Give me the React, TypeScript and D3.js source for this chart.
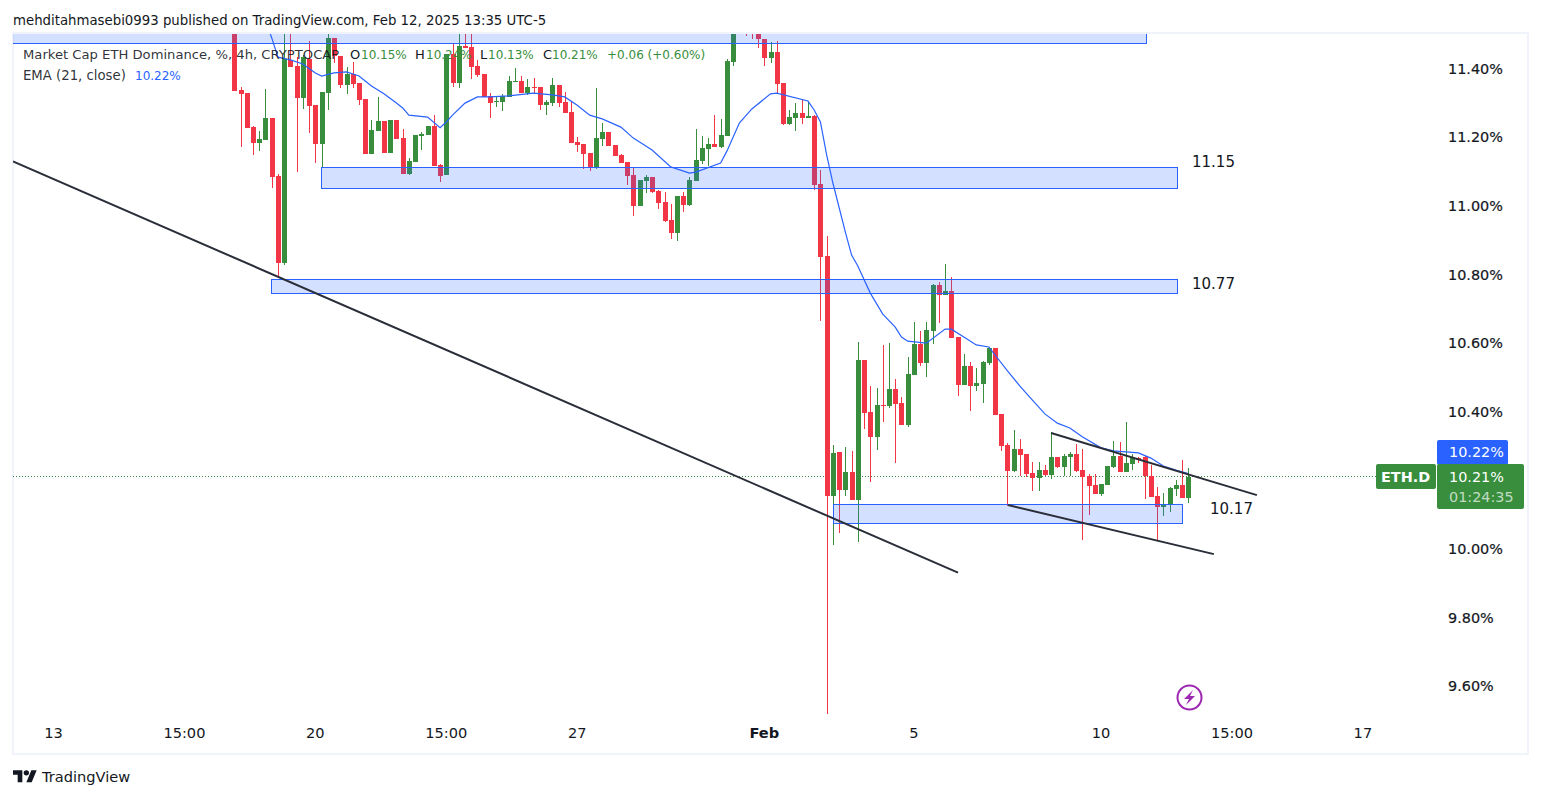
import * as d3 from "d3";

const opens = [
  11.528,11.338,11.329,11.230,11.184,11.192,11.257,11.087,10.834,11.426,
  11.408,11.315,11.429,11.294,11.181,11.329,11.490,11.437,11.353,11.385,
  11.359,11.312,11.152,11.219,11.248,11.155,11.251,11.198,11.093,11.128,
  11.204,11.207,11.233,11.120,11.090,11.443,11.359,11.466,11.464,11.408,
  11.385,11.321,11.303,11.303,11.318,11.362,11.364,11.329,11.347,11.347,
  11.294,11.300,11.353,11.303,11.274,11.187,11.181,11.155,11.111,11.195,
  11.216,11.178,11.149,11.128,11.090,11.000,11.073,11.085,11.044,11.012,
  10.959,10.921,11.029,11.003,11.073,11.131,11.166,11.181,11.172,11.204,
  11.420,11.55,11.58,11.54,11.510,11.487,11.432,11.449,11.359,11.239,
  11.257,11.271,11.257,11.262,11.064,10.854,10.155,10.283,10.172,10.224,
  10.143,10.551,10.399,10.327,10.420,10.417,10.466,10.426,10.362,10.507,
  10.598,10.542,10.636,10.770,10.740,10.752,10.618,10.478,10.533,10.475,
  10.481,10.542,10.586,10.394,10.303,10.227,10.292,10.277,10.222,10.207,
  10.230,10.216,10.268,10.239,10.268,10.277,10.230,10.213,10.187,10.160,
  10.187,10.239,10.271,10.224,10.248,10.265,10.268,10.213,10.155,10.122,
  10.128,10.175,10.187,10.149,
];
const highs = [
  11.542,11.347,11.329,11.233,11.219,11.341,11.257,11.093,11.542,11.542,
  11.434,11.440,11.481,11.294,11.332,11.510,11.490,11.437,11.405,11.420,
  11.359,11.312,11.251,11.318,11.248,11.251,11.251,11.225,11.140,11.207,
  11.216,11.233,11.265,11.122,11.443,11.475,11.501,11.501,11.501,11.426,
  11.385,11.329,11.321,11.327,11.379,11.402,11.379,11.370,11.373,11.347,
  11.309,11.373,11.353,11.332,11.303,11.201,11.181,11.155,11.344,11.242,
  11.216,11.178,11.152,11.128,11.114,11.076,11.090,11.085,11.047,11.041,
  11.006,11.029,11.041,11.085,11.225,11.204,11.198,11.265,11.254,11.429,
  11.560,11.60,11.62,11.57,11.530,11.487,11.478,11.481,11.359,11.280,
  11.300,11.309,11.306,11.265,11.105,10.912,10.303,10.283,10.297,10.286,
  10.603,10.551,10.475,10.469,10.595,10.600,10.496,10.443,10.560,10.662,
  10.636,10.662,10.773,10.778,10.831,10.793,10.618,10.568,10.545,10.528,
  10.548,10.589,10.586,10.394,10.309,10.347,10.321,10.277,10.254,10.254,
  10.245,10.341,10.268,10.277,10.283,10.306,10.292,10.219,10.219,10.190,
  10.242,10.315,10.312,10.370,10.277,10.268,10.271,10.245,10.181,10.163,
  10.181,10.201,10.259,10.236,
];
const lows = [
  11.335,11.172,11.228,11.149,11.160,11.192,11.052,10.793,10.828,11.405,
  11.099,11.283,11.213,11.125,11.114,11.280,11.417,11.344,11.327,11.344,
  11.294,11.152,11.152,11.219,11.155,11.155,11.195,11.093,11.090,11.128,
  11.163,11.207,11.117,11.070,11.090,11.347,11.344,11.461,11.370,11.376,
  11.318,11.257,11.289,11.277,11.318,11.362,11.329,11.324,11.329,11.280,
  11.265,11.292,11.289,11.271,11.184,11.157,11.108,11.102,11.108,11.175,
  11.175,11.146,11.125,11.061,10.971,11.000,11.038,11.038,10.991,10.953,
  10.904,10.898,10.982,11.000,11.073,11.122,11.117,11.172,11.169,11.204,
  11.408,11.52,11.495,11.487,11.461,11.408,11.417,11.329,11.236,11.236,
  11.219,11.239,11.257,11.047,10.665,9.519,10.012,10.047,10.155,10.143,
  10.020,10.350,10.195,10.289,10.370,10.411,10.251,10.362,10.356,10.507,
  10.533,10.501,10.598,10.659,10.740,10.615,10.446,10.478,10.402,10.461,
  10.426,10.536,10.391,10.286,10.125,10.224,10.213,10.210,10.169,10.169,
  10.213,10.204,10.236,10.213,10.213,10.224,10.026,10.099,10.160,10.155,
  10.187,10.236,10.224,10.224,10.230,10.251,10.146,10.152,10.023,10.096,
  10.108,10.155,10.149,10.134,
];
const closes = [
  11.335,11.327,11.228,11.184,11.195,11.257,11.085,10.834,11.429,11.405,
  11.315,11.434,11.292,11.181,11.332,11.490,11.437,11.353,11.385,11.356,
  11.309,11.152,11.222,11.248,11.155,11.251,11.195,11.093,11.131,11.207,
  11.210,11.233,11.117,11.087,11.443,11.359,11.466,11.462,11.405,11.382,
  11.318,11.300,11.306,11.321,11.364,11.364,11.329,11.347,11.344,11.294,
  11.303,11.353,11.300,11.271,11.184,11.178,11.152,11.111,11.198,11.216,
  11.175,11.146,11.125,11.087,11.000,11.076,11.085,11.041,11.009,10.956,
  10.921,11.029,11.003,11.076,11.134,11.169,11.181,11.172,11.207,11.423,
  11.542,11.58,11.54,11.51,11.487,11.432,11.449,11.356,11.239,11.259,
  11.271,11.257,11.262,11.061,10.851,10.155,10.280,10.172,10.224,10.143,
  10.551,10.396,10.327,10.420,10.417,10.466,10.423,10.362,10.510,10.598,
  10.542,10.638,10.770,10.740,10.752,10.615,10.478,10.533,10.475,10.484,
  10.545,10.586,10.391,10.300,10.227,10.292,10.274,10.219,10.207,10.230,
  10.216,10.268,10.239,10.271,10.277,10.227,10.210,10.184,10.160,10.190,
  10.242,10.271,10.224,10.251,10.265,10.259,10.213,10.152,10.122,10.131,
  10.178,10.187,10.149,10.21,
];

// EMA read at these bars only
const emaBars = [
  5,6,7,9,11,13,14,16,18,20,22,24,26,27,28,31,33,34,35,37,39,41,44,48,51,53,55,57,59,62,64,67,70,73,74,78,79,81,83,86,87,92,93,
  94,95,96,98,99,100,102,104,106,107,108,111,114,115,117,119,121,124,126,128,130,132,134,136,139,141,145,147,149,151,153,
];
const emaValues = [
  11.542,11.490,11.434,11.426,11.414,11.388,11.379,11.388,11.391,11.379,11.350,11.327,11.300,11.286,11.265,11.259,11.228,11.245,11.265,11.300,11.318,11.318,11.321,11.329,11.324,11.318,11.294,11.265,11.254,11.230,11.198,11.163,11.114,11.096,11.099,11.125,11.160,11.242,11.283,11.327,11.329,11.306,11.280,
  11.245,11.149,11.067,10.924,10.857,10.825,10.746,10.685,10.647,10.618,10.606,10.600,10.641,10.641,10.618,10.595,10.589,10.519,10.475,10.434,10.394,10.367,10.353,10.327,10.295,10.286,10.280,10.265,10.242,10.230,10.22,
];

const priceTicks = [11.4, 11.2, 11.0, 10.8, 10.6, 10.4, 10.0, 9.8, 9.6];
const timeTickBars = [-29, -8, 13, 34, 55, 85, 109, 139, 160, 181];
const timeTickLabels = ["13", "15:00", "20", "15:00", "27", "Feb", "5", "10", "15:00", "17"];

// zones: bar from, bar to, price top, price bottom
const zoneFrom = [-60, 13.9, 5.9, 96];
const zoneTo = [146.2, 151.2, 151.2, 152];
const zoneTop = [11.6, 11.112, 10.787, 10.131];
const zoneBottom = [11.474, 11.051, 10.744, 10.073];
const zoneLabels = ["", "11.15", "10.77", "10.17"];

const trendFrom = [-35.5, 124.1, 131];
const trendFromPrice = [11.13, 10.128, 10.338];
const trendTo = [116.07, 157.1, 164];
const trendToPrice = [9.931, 9.985, 10.157];

const RED = "#f23645";
const GREEN = "#388e3c";
const BLUE = "#2962ff";
const INK = "#131722";
const FONT = "'DejaVu Sans', sans-serif";

export default function App() {
  const xScale = d3.scaleLinear().domain([0, 153]).range([234.3, 1188.3]);
  const yScale = d3.scaleLinear().domain([10, 11.4]).range([549, 68.8]);

  const emaLine = d3.line<number>()
    .x((d, i) => xScale(emaBars[i]))
    .y((d) => yScale(d));

  const labelX = [1192, 1192, 1210];
  const labelY = [162, 284, 509];

  return (
    <svg width={1541} height={798} style={{ position: "absolute", left: 0, top: 0, background: "#fff" }} fontFamily={FONT}>
      <defs>
        <clipPath id="pane"><rect x={13} y={34} width={1514} height={719} /></clipPath>
      </defs>

      <text x={13} y={25} fontSize={13.3} fill={INK}>mehditahmasebi0993 published on TradingView.com, Feb 12, 2025 13:35 UTC-5</text>

      {/* pane frame */}
      <rect x={13} y={33} width={1515} height={721} fill="none" stroke="#f0f3fa" strokeWidth={2} />

      <g clipPath="url(#pane)">
        <line x1={13} x2={1376} y1={476.5} y2={476.5} stroke={GREEN} strokeDasharray="1 2" shapeRendering="crispEdges" />

        {opens.map((o, i) => {
          const c = closes[i];
          const color = c >= o ? GREEN : RED;
          const x = Math.round(xScale(i));
          const top = yScale(Math.max(o, c));
          const bottom = yScale(Math.min(o, c));
          return (
            <g key={i} shapeRendering="crispEdges">
              <line x1={x + 0.5} x2={x + 0.5} y1={yScale(highs[i])} y2={yScale(lows[i])} stroke={color} />
              <rect x={x - 2} y={top} width={5} height={Math.max(1, bottom - top)} fill={color} />
            </g>
          );
        })}

        <path d={emaLine(emaValues) as string} fill="none" stroke={BLUE} strokeWidth={1.2} />

        {zoneFrom.map((from, i) => {
          const x0 = Math.round(xScale(from)) + 0.5;
          const x1 = Math.round(xScale(zoneTo[i])) + 0.5;
          const y0 = Math.floor(yScale(zoneTop[i])) + 0.5;
          const y1 = Math.floor(yScale(zoneBottom[i])) + 0.5;
          return (
            <rect key={i} x={x0} y={y0} width={x1 - x0} height={y1 - y0} fill={BLUE} fillOpacity={0.2} stroke={BLUE} strokeWidth={1} />
          );
        })}

        {trendFrom.map((from, i) => (
          <line
            key={i}
            x1={xScale(from)}
            y1={yScale(trendFromPrice[i])}
            x2={xScale(trendTo[i])}
            y2={yScale(trendToPrice[i])}
            stroke="#2a2e39"
            strokeWidth={2}
          />
        ))}
      </g>

      {zoneLabels.slice(1).map((t, i) => (
        <text key={t} x={labelX[i]} y={labelY[i]} dy="0.35em" fontSize={15} fill={INK}>{t}</text>
      ))}

      {/* legend */}
      <text x={23} y={59} fontSize={13.15} fill={INK} fillOpacity={0.9}>Market Cap ETH Dominance, %, 4h, CRYPTOCAP</text>
      <g fontSize={12} fill={GREEN}>
        <text x={350} y={59} fontSize={13} fill={INK}>O</text>
        <text x={361} y={59}>10.15%</text>
        <text x={415} y={59} fontSize={13} fill={INK}>H</text>
        <text x={426} y={59}>10.24%</text>
        <text x={480} y={59} fontSize={13} fill={INK}>L</text>
        <text x={488} y={59}>10.13%</text>
        <text x={543} y={59} fontSize={13} fill={INK}>C</text>
        <text x={552} y={59}>10.21%</text>
        <text x={607} y={59}>+0.06 (+0.60%)</text>
      </g>
      <text x={23} y={80} fontSize={13.25} fill={INK} fillOpacity={0.9}>EMA (21, close)</text>
      <text x={135} y={80} fontSize={12} fill={BLUE}>10.22%</text>

      {/* price scale */}
      {priceTicks.map((p) => (
        <text key={p} x={1448} y={yScale(p)} dy="0.35em" fontSize={14.4} stroke={INK} strokeWidth={0.2} fill={INK}>{p.toFixed(2)}%</text>
      ))}

      {/* last price labels */}
      <rect x={1437} y={440} width={71} height={25} rx={2} fill={BLUE} />
      <text x={1449} y={452} dy="0.35em" fontSize={14.4} fill="#fff">10.22%</text>
      <rect x={1376} y={464} width={60} height={25} rx={2} fill={GREEN} />
      <text x={1381} y={477} dy="0.35em" fontSize={14.4} fontWeight={600} fill="#fff">ETH.D</text>
      <rect x={1437} y={464} width={87} height={45} rx={2} fill={GREEN} />
      <text x={1449} y={477} dy="0.35em" fontSize={14.4} fill="#fff">10.21%</text>
      <text x={1449} y={497} dy="0.35em" fontSize={14.4} fill="#fff" fillOpacity={0.7}>01:24:35</text>

      {/* time scale */}
      {timeTickBars.map((b, i) => (
        <text
          key={i}
          x={xScale(b)}
          y={733}
          dy="0.35em"
          textAnchor="middle"
          fontSize={14.6}
          fontWeight={timeTickLabels[i] === "Feb" ? 700 : 400}
          fill={INK}
        >
          {timeTickLabels[i]}
        </text>
      ))}

      {/* bolt */}
      <circle cx={1189.5} cy={697.5} r={12} fill="none" stroke="#9c27b0" strokeWidth={2} />
      <path d="M1193 690 L1184 699 L1189 699 L1186 705 L1195 696 L1190 696 Z" fill="#9c27b0" />

      {/* logo */}
      <g transform="translate(13,767.5) scale(0.667)" fill={INK}>
        <path d="M14 22H7V11H0V4h14v18zM28 22h-8l7.5-18h8L28 22z" />
        <circle cx={20} cy={8} r={4} />
      </g>
      <text x={42} y={782} fontSize={14.6} fill={INK}>TradingView</text>
    </svg>
  );
}
